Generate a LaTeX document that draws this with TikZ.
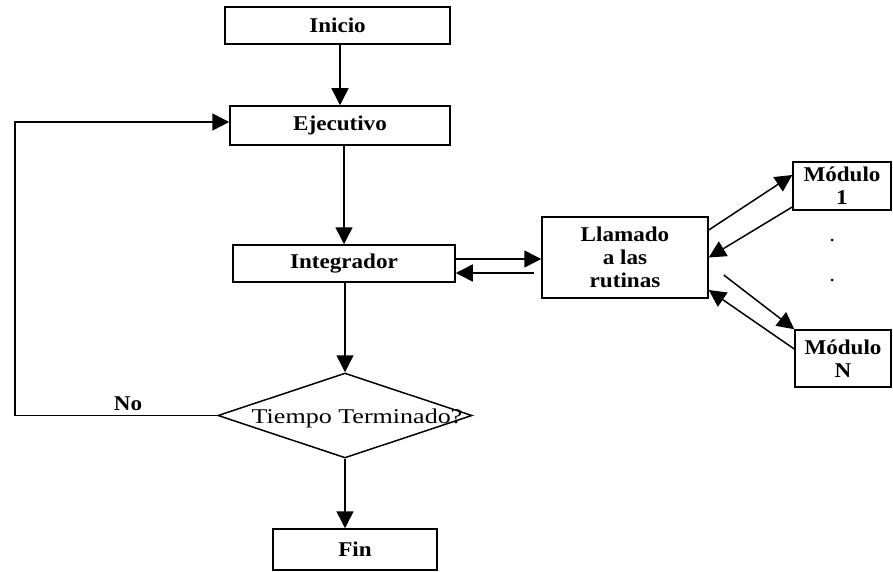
\documentclass[tikz,border=0pt]{standalone}
\usepackage{fontspec}
\setmainfont{Liberation Serif}
\usepackage{graphicx}
\usetikzlibrary{arrows.meta,shapes.geometric,calc}
% slightly widened lettering
\newcommand{\widetxt}[2][1.1]{\scalebox{#1}[1]{#2}}
\begin{document}
\begin{tikzpicture}[x=1pt,y=-1pt,
  box/.style={draw, line width=1.5pt, inner sep=0pt, align=center,
    font=\bfseries\fontsize{21}{23}\selectfont},
  decision/.style={draw, diamond, line width=1.5pt, inner sep=0pt},
  lbl/.style={inner sep=0pt, font=\bfseries\fontsize{21}{23}\selectfont},
  arr/.style={line width=1.5pt, -{Triangle[length=17pt,width=17pt]}}]
\useasboundingbox (0,0) rectangle (893,572);

% main column
\node[box, minimum width=225pt, minimum height=37pt] (ini) at (337.5,25.5) {\widetxt{Inicio}};
\node[box, minimum width=220pt, minimum height=39pt] (eje) at (340,125.5) {\widetxt{Ejecutivo}};
\node[box, minimum width=222pt, minimum height=37pt] (int) at (344,263.5) {\widetxt{Integrador}};
\node[decision, minimum width=254pt, minimum height=85pt] (dec) at (345,415.5) {};
\node[inner sep=0pt, font=\fontsize{21}{23}\selectfont] (dectxt) at ([xshift=12pt,yshift=-2.5pt]dec.center) {\widetxt[1.24]{Tiempo Terminado?}};
\node[box, minimum width=164pt, minimum height=41pt] (fin) at (355,549.5) {\widetxt{Fin}};

% routine dispatcher and modules
\node[box, minimum width=166pt, minimum height=81pt] (lla) at (625,257.5) {\widetxt{Llamado}\\\widetxt{a las}\\\widetxt{rutinas}};
\node[box, minimum width=98pt, minimum height=48pt] (m1) at (842,186) {\widetxt{Módulo}\\\widetxt{1}};
\node[box, minimum width=96pt, minimum height=57pt] (mN) at (843,358.5) {\widetxt{Módulo}\\\widetxt{N}};
\fill (832,240) circle (1.5pt);
\fill (832,280) circle (1.5pt);

% flow down the column
\draw[arr] (ini.south -| eje.north) -- (eje.north);
\draw[arr] (eje.south -| int.north) -- (int.north);
\draw[arr] (int.south -| dec.north) -- (dec.north);
\draw[arr] (dec.south) -- (dec.south |- fin.north);

% loop back when time is not over
\coordinate (loop) at (15,122);
\draw[arr] (dec.west) -| (loop) -- (eje.west |- loop);
\node[lbl] (no) at (128,404) {\widetxt{No}};

% integrator <-> dispatcher
\draw[arr] ([yshift=4.5pt]int.east) -- ([yshift=4.5pt]int.east -| lla.west);
\draw[arr] ([xshift=-7pt,yshift=-15.5pt]lla.west) -- ([yshift=-15.5pt]lla.west -| int.east);

% dispatcher <-> modules
\draw[arr] ([yshift=27.5pt]lla.east) -- ([yshift=11pt]m1.west);
\draw[arr] ([yshift=-21pt]m1.west) -- (lla.east);
\draw[arr] ([xshift=15pt,yshift=-17.5pt]lla.east) -- (mN.north west);
\draw[arr] ([yshift=9.5pt]mN.west) -- ([yshift=-32.5pt]lla.east);
\end{tikzpicture}
\end{document}
